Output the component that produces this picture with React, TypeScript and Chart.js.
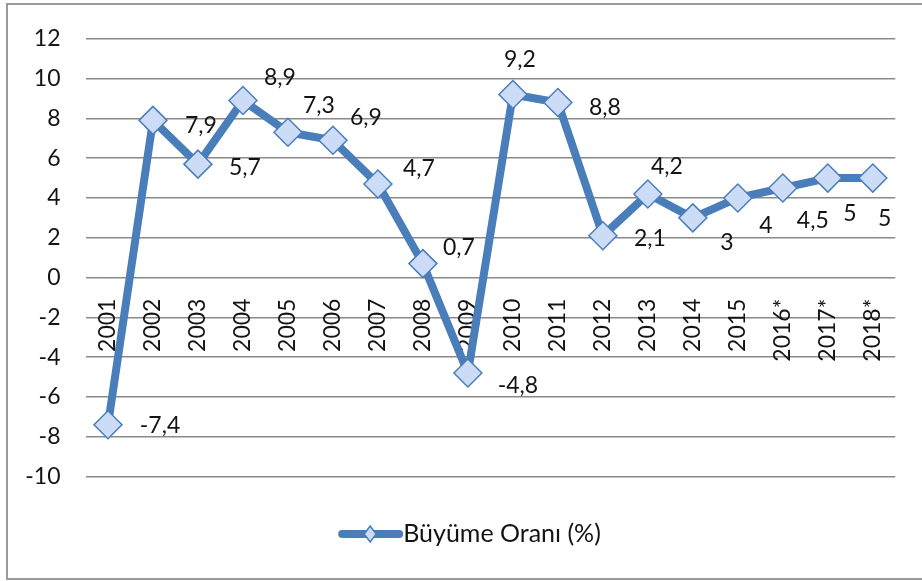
import React, { useEffect, useRef } from 'react';
import { Chart, registerables } from 'chart.js';

Chart.register(...registerables);

const categories = ['2001', '2002', '2003', '2004', '2005', '2006', '2007', '2008', '2009', '2010', '2011', '2012', '2013', '2014', '2015', '2016*', '2017*', '2018*'];
const growthRate = [-7.4, 7.9, 5.7, 8.9, 7.3, 6.9, 4.7, 0.7, -4.8, 9.2, 8.8, 2.1, 4.2, 3, 4, 4.5, 5, 5];
const seriesName = 'Büyüme Oranı (%)';
const yMin = -10;
const yMax = 12;
const yStep = 2;

// label placement (text centre offset from the point, px)
const labelOffsets: [number, number][] = [
  [52, 1], [48, 5], [47, 3], [37, -23], [31, -27], [33, -23], [41, -15], [36, -16], [50, 13],
  [7, -35], [47, 5], [47, 3], [19, -27], [34, 25], [28, 28], [30, 33], [22, 36], [12, 41],
];

const LINE = '#4a7ebb';
const FILL = '#cddcf6';
const GRID = '#8a8a8a';
const TEXT = '#141414';
const FONT_FAMILY = 'Lato';
const FONT_SIZE = 23;
const LEGEND_FONT_SIZE = 25;

const fmt = (v: number) => String(v).replace('.', ',');

const valueLabelPlugin = {
  id: 'valueLabels',
  afterDatasetsDraw(chart: any) {
    const ctx = chart.ctx;
    const meta = chart.getDatasetMeta(0);
    ctx.save();
    ctx.font = `${FONT_SIZE}px ${FONT_FAMILY}`;
    ctx.fillStyle = TEXT;
    ctx.textAlign = 'center';
    ctx.textBaseline = 'middle';
    meta.data.forEach((pt: any, i: number) => {
      const [dx, dy] = labelOffsets[i] || [30, 0];
      ctx.fillText(fmt(growthRate[i]), pt.x + dx, pt.y + dy);
    });
    ctx.restore();
  },
};

const legendPlugin = {
  id: 'customLegend',
  afterDraw(chart: any) {
    const ctx = chart.ctx;
    ctx.save();
    ctx.font = `${LEGEND_FONT_SIZE}px ${FONT_FAMILY}`;
    const tw = ctx.measureText(seriesName).width;
    const lineW = 65;
    const total = lineW + tw;
    const cx = 469.5;
    const y = 534;
    const x0 = cx - total / 2;
    ctx.strokeStyle = LINE;
    ctx.lineWidth = 8;
    ctx.lineCap = 'round';
    ctx.beginPath();
    ctx.moveTo(x0 + 4, y);
    ctx.lineTo(x0 + lineW - 4, y);
    ctx.stroke();
    const dxm = x0 + 32;
    ctx.beginPath();
    ctx.moveTo(dxm - 6, y);
    ctx.lineTo(dxm, y - 8);
    ctx.lineTo(dxm + 6, y);
    ctx.lineTo(dxm, y + 8);
    ctx.closePath();
    ctx.fillStyle = FILL;
    ctx.fill();
    ctx.lineWidth = 1.5;
    ctx.stroke();
    ctx.fillStyle = TEXT;
    ctx.textAlign = 'left';
    ctx.textBaseline = 'middle';
    ctx.fillText(seriesName, x0 + lineW, y);
    ctx.restore();
  },
};

export default function App() {
  const ref = useRef<HTMLCanvasElement | null>(null);

  useEffect(() => {
    if (!ref.current) return;
    const chart = new Chart(ref.current, {
      type: 'line',
      data: {
        labels: categories,
        datasets: [
          {
            label: seriesName,
            data: growthRate,
            borderColor: LINE,
            borderWidth: 8,
            borderJoinStyle: 'round',
            pointStyle: 'rectRot',
            pointRadius: 14,
            pointHoverRadius: 14,
            pointBackgroundColor: FILL,
            pointBorderColor: LINE,
            pointBorderWidth: 1.5,
            tension: 0,
            fill: false,
          },
        ],
      },
      options: {
        responsive: false,
        animation: false,
        events: [],
        layout: { padding: { left: 8, right: 22, top: 36.5, bottom: 104.5 } },
        scales: {
          x: {
            type: 'category',
            position: { y: 0 } as any,
            offset: true,
            grid: { display: false, drawTicks: false },
            border: { display: false },
            ticks: {
              autoSkip: false,
              minRotation: 90,
              maxRotation: 90,
              padding: 21,
              color: TEXT,
              font: { family: FONT_FAMILY, size: FONT_SIZE },
            },
          },
          y: {
            min: yMin,
            max: yMax,
            ticks: {
              stepSize: yStep,
              padding: 25,
              color: TEXT,
              font: { family: FONT_FAMILY, size: FONT_SIZE },
            },
            grid: { color: GRID, lineWidth: 1.5, drawTicks: false },
            border: { display: false },
            afterFit: (s: any) => {
              s.width = 77.5;
            },
          },
        },
        plugins: {
          legend: { display: false },
          tooltip: { enabled: false },
        },
      },
      plugins: [valueLabelPlugin, legendPlugin],
    });
    return () => chart.destroy();
  }, []);

  return (
    <div style={{ position: 'absolute', left: 0, top: 0, width: 922, height: 581, overflow: 'hidden', background: '#fff' }}>
      <div style={{ position: 'absolute', left: 6, top: 3, width: 930, height: 573, border: '2px solid #9a9a9a', boxSizing: 'content-box' }} />
      <canvas ref={ref} width={922} height={581} style={{ position: 'absolute', left: 0, top: 0, display: 'block' }} />
    </div>
  );
}
